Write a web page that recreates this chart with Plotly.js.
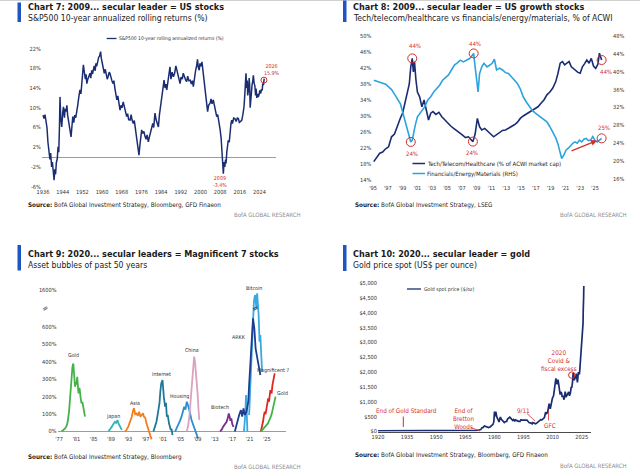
<!DOCTYPE html>
<html><head><meta charset="utf-8">
<script src="https://cdn.plot.ly/plotly-3.0.1.min.js"></script>
<style>html,body{margin:0;padding:0;background:#fff;}#c{width:640px;height:476px;}</style>
</head><body><div id="c"></div>
<script>
// ---------- Chart 7 : S&P500 10-year rolling annualized returns ----------
const spYears = [1936.0,1936.4,1936.8,1937.2,1937.6,1938.0,1938.4,1938.8,1939.1,1939.5,
 1939.8,1940.1,1940.5,1940.8,1941.1,1941.4,1941.8,1942.1,1942.4,1942.7,
 1942.9,1943.2,1943.6,1944.0,1944.3,1944.7,1945.0,1945.3,1945.7,1946.0,
 1946.3,1946.8,1947.1,1947.4,1947.8,1948.1,1948.5,1948.9,1949.3,1949.7,
 1950.1,1950.5,1951.0,1951.4,1951.8,1952.1,1952.4,1952.8,1953.2,1953.5,
 1953.8,1954.2,1954.6,1955.1,1955.4,1955.8,1956.1,1956.4,1956.8,1957.2,
 1957.5,1957.8,1958.2,1958.6,1959.0,1959.4,1959.7,1960.0,1960.5,1960.9,
 1961.3,1961.7,1962.1,1962.5,1962.9,1963.2,1963.6,1964.0,1964.4,1964.8,
 1965.2,1965.6,1966.0,1966.4,1966.8,1967.3,1967.7,1968.1,1968.6,1969.0,
 1969.4,1970.0,1970.4,1970.8,1971.4,1971.8,1972.2,1972.7,1973.1,1973.5,
 1974.1,1974.5,1975.0,1975.4,1975.8,1976.1,1976.5,1977.0,1977.5,1977.9,
 1978.3,1978.8,1979.2,1979.6,1980.2,1980.6,1981.0,1981.5,1982.0,1982.5,
 1982.9,1983.3,1983.8,1984.3,1984.8,1985.2,1985.6,1986.0,1986.3,1986.8,
 1987.2,1987.6,1988.0,1988.5,1989.0,1989.5,1990.0,1990.4,1990.8,1991.2,
 1991.7,1992.1,1992.6,1993.0,1993.4,1994.0,1994.4,1994.8,1995.3,1995.8,
 1996.3,1996.7,1997.1,1997.5,1998.0,1998.5,1998.8,1999.1,1999.5,1999.8,
 2000.2,2000.6,2000.9,2001.2,2001.6,2001.9,2002.2,2002.5,2002.9,2003.3,
 2003.9,2004.3,2004.7,2005.2,2005.6,2006.1,2006.6,2007.0,2007.5,2008.0,
 2008.4,2008.7,2008.9,2009.1,2009.3,2009.6,2009.9,2010.2,2010.4,2010.7,
 2011.0,2011.3,2011.7,2012.0,2012.4,2012.7,2013.0,2013.5,2014.0,2014.5,
 2015.0,2015.4,2015.8,2016.3,2016.8,2017.2,2017.7,2018.0,2018.3,2018.5,
 2018.8,2019.0,2019.2,2019.5,2019.8,2020.0,2020.2,2020.4,2020.7,2021.0,
 2021.2,2021.5,2021.8,2022.1,2022.4,2022.6,2022.9,2023.2,2023.5,2023.8,
 2024.1,2024.5,2024.8,2025.1,2025.3,2025.6,2025.9];
const spReturns = [8.5,7.8,8.6,7.2,6.0,3.0,1.2,-0.5,0.8,-2.0,
 -1.0,-3.2,-4.7,-2.5,-3.5,-1.2,-0.3,2.1,1.0,6.5,
 12.2,8.0,6.1,9.0,10.2,8.0,9.8,9.2,10.5,8.5,
 7.5,6.0,4.8,4.1,6.5,8.2,7.0,8.5,8.0,8.9,
 10.5,12.0,13.6,12.8,15.5,17.0,18.7,17.2,15.8,16.8,
 14.9,15.8,16.5,17.0,16.0,17.6,16.8,17.6,18.5,17.5,
 19.0,18.4,19.5,20.2,20.5,21.4,20.0,19.2,18.3,17.0,
 17.8,16.6,15.8,16.4,17.2,17.0,16.0,15.5,14.9,15.5,
 14.0,12.5,11.6,12.4,10.8,9.5,10.5,10.0,11.2,10.2,
 9.0,8.2,8.8,7.6,7.5,8.6,7.5,6.8,7.4,5.8,
 4.1,3.0,0.4,2.5,5.0,5.5,4.8,5.2,4.1,3.6,
 4.5,3.1,4.0,4.8,5.5,6.8,6.0,8.9,7.5,6.8,
 6.1,8.5,10.2,11.6,13.5,15.6,14.0,14.8,13.6,15.5,
 16.5,18.3,15.8,17.2,16.3,17.0,18.5,17.6,16.5,15.5,
 14.9,16.2,15.8,17.0,16.2,15.6,15.3,16.4,15.5,15.6,
 14.8,15.5,14.3,16.0,17.5,18.7,19.8,18.2,17.6,19.0,
 18.4,19.3,18.0,16.5,14.3,12.8,11.5,10.2,9.2,10.5,
 10.9,11.8,10.8,11.6,10.5,9.5,8.2,8.6,7.2,5.5,
 3.8,1.5,0.1,-1.8,-3.4,-1.0,-2.0,-0.5,-1.3,1.0,
 2.5,3.4,3.0,5.2,6.8,7.5,6.8,7.9,7.8,7.2,
 7.9,7.8,7.0,7.2,7.5,8.5,10.2,12.5,14.5,17.0,
 14.0,15.5,12.5,13.6,16.0,14.5,10.0,11.6,13.5,14.8,
 15.2,16.6,15.0,14.5,12.5,13.9,12.0,12.8,12.2,12.6,
 13.5,12.9,13.8,13.5,14.9,14.6,15.9];
const spYTicks = [-6,-2,2,6,10,14,18,22];
const spXTicks = [1936,1944,1952,1960,1968,1976,1984,1992,2000,2008,2016,2024];

// ---------- Chart 8 : sector shares of ACWI ----------
const techYears = [1995.1,1995.5,1995.9,1996.3,1996.7,1997.1,1997.5,1997.9,1998.3,1998.7,
 1999.0,1999.3,1999.6,1999.9,2000.1,2000.3,2000.45,2000.6,2000.8,2001.0,
 2001.3,2001.6,2001.9,2002.2,2002.5,2002.8,2003.1,2003.5,2003.9,2004.3,
 2004.7,2005.1,2005.5,2005.9,2006.3,2006.7,2007.1,2007.5,2007.9,2008.2,
 2008.5,2008.8,2009.1,2009.4,2009.7,2010.1,2010.5,2010.9,2011.3,2011.7,
 2012.1,2012.5,2012.9,2013.3,2013.7,2014.1,2014.5,2014.9,2015.3,2015.7,
 2016.1,2016.5,2016.9,2017.3,2017.7,2018.1,2018.5,2018.9,2019.3,2019.7,
 2020.0,2020.3,2020.6,2020.9,2021.2,2021.5,2021.8,2022.1,2022.4,2022.7,
 2023.0,2023.3,2023.6,2023.9,2024.2,2024.5,2024.8,2025.1,2025.4,2025.6,2025.9];
const techShare = [18.6,19.8,20.7,21.0,21.8,22.3,24.8,25.5,27.8,29.5,
 30.7,33.2,35.5,38.0,42.3,44.4,41.0,43.6,39.0,36.0,
 34.8,32.3,34.0,31.5,29.0,30.7,31.1,30.4,30.9,29.8,
 29.0,28.2,27.5,26.9,26.4,25.7,25.2,24.6,24.8,24.2,
 23.6,25.5,29.4,27.3,26.5,26.9,26.1,25.5,24.8,25.3,
 25.8,26.4,26.5,26.9,27.3,27.8,28.4,29.4,30.0,30.5,
 30.9,31.3,31.9,32.3,33.2,34.0,35.3,36.0,37.0,38.6,
 40.7,43.2,43.6,42.8,43.2,43.6,42.3,41.8,41.5,40.9,
 40.7,42.3,43.1,44.0,43.2,44.4,42.5,41.9,43.0,45.7,44.0];
const finYears = [1995.1,1995.5,1995.9,1996.3,1996.7,1997.1,1997.5,1997.9,1998.3,1998.7,
 1999.0,1999.3,1999.6,1999.9,2000.1,2000.3,2000.5,2000.7,2001.0,2001.3,
 2001.6,2002.0,2002.4,2002.8,2003.2,2003.6,2004.0,2004.4,2004.8,2005.2,
 2005.6,2006.0,2006.4,2006.8,2007.2,2007.6,2008.0,2008.3,2008.6,2008.8,
 2009.0,2009.2,2009.4,2009.7,2010.0,2010.4,2010.8,2011.1,2011.4,2011.7,
 2012.1,2012.5,2012.9,2013.3,2013.7,2014.1,2014.5,2014.9,2015.3,2015.7,
 2016.1,2016.5,2016.9,2017.3,2017.7,2018.1,2018.5,2018.9,2019.3,2019.7,
 2020.0,2020.3,2020.5,2020.8,2021.1,2021.4,2021.7,2022.0,2022.3,2022.6,
 2022.9,2023.2,2023.5,2023.8,2024.1,2024.4,2024.7,2025.0,2025.3,2025.6,2025.9];
const finShare = [38.1,37.9,37.6,37.4,37.2,36.6,36.0,35.0,34.0,32.8,
 31.0,29.2,27.0,25.5,24.3,24.7,26.5,28.0,29.9,30.6,
 31.1,32.2,33.7,34.4,35.5,36.3,37.0,38.1,38.8,39.3,
 40.4,41.5,42.0,42.6,42.2,42.6,42.9,43.4,44.1,41.1,
 38.1,35.5,39.6,41.1,41.9,41.1,41.5,41.9,42.8,40.4,
 40.8,40.4,39.8,39.6,38.9,38.1,37.4,36.2,34.4,33.3,
 32.2,31.4,30.8,30.3,29.9,29.2,28.8,27.7,26.6,25.2,
 23.8,22.0,20.6,21.4,22.5,22.9,23.5,24.0,24.3,24.0,
 24.7,24.3,24.9,25.1,24.6,24.7,25.5,24.6,24.3,24.7,25.1];
const acwiXTicks = [1995,1997,1999,2001,2003,2005,2007,2009,2011,2013,2015,2017,2019,2021,2023,2025];
const acwiXLabels = ["'95","'97","'99","'01","'03","'05","'07","'09","'11","'13","'15","'17","'19","'21","'23","'25"];
const acwiLeftTicks = [14,18,22,26,30,34,38,42,46,50];
const acwiRightTicks = [16,20,24,28,32,36,40,44,48];

// ---------- Chart 9 : asset bubbles ----------
const gold1Years = [1977.6,1978.0,1978.4,1978.8,1979.0,1979.3,1979.5,1979.7,1979.9,1980.1,1980.3,1980.5,1980.7,1980.9,1981.05,1981.2,1981.4,1981.5,1981.7,1981.8,1982.0,1982.2,1982.4,1982.6,1982.8,1983.0];
const gold1Gain = [0,8,18,35,56,110,180,250,314,370,390,300,257,285,270,314,240,219,250,238,190,162,170,142,110,85];
const japanYears = [1988.4,1988.8,1989.2,1989.5,1989.9,1990.2,1990.5,1990.7,1990.9,1991.2,1991.5];
const japanGain = [0,12,28,40,56,50,66,48,37,20,9];
const asiaYears = [1992.2,1992.6,1993.0,1993.4,1993.8,1994.1,1994.3,1994.6,1994.9,1995.2,1995.5,1995.8,1996.1,1996.4,1996.6,1996.9,1997.2,1997.5,1997.8,1998.1,1998.4];
const asiaGain = [0,10,28,55,85,120,133,100,104,90,113,85,95,105,85,80,47,20,-10,-25,-45];
const internetYears = [1998.8,1999.1,1999.5,1999.8,2000.2,2000.4,2000.6,2000.9,2001.0,2001.2,2001.5,2001.7,2001.9,2002.1,2002.4,2002.6,2002.8,2003.0,2003.2];
const internetGain = [0,20,56,100,162,230,276,295,250,200,142,165,85,95,47,30,9,15,-20];
const housingYears = [2003.8,2004.1,2004.5,2004.9,2005.3,2005.6,2005.9,2006.2,2006.5,2006.8,2007.0,2007.3,2007.6,2008.0,2008.4,2008.8,2009.1];
const housingGain = [0,15,37,60,85,110,142,125,171,150,133,100,66,40,9,-15,-39];
const chinaYears = [2006.5,2006.8,2007.1,2007.4,2007.6,2007.9,2008.2,2008.4,2008.6,2008.8,2009.0,2009.2,2009.4];
const chinaGain = [0,30,85,180,276,350,429,400,352,300,219,130,66];
const biotechYears = [2014.2,2014.6,2014.9,2015.3,2015.7,2016.0,2016.2,2016.4,2016.6,2016.8,2017.0,2017.3];
const biotechGain = [0,12,28,40,56,80,104,85,62,75,43,26];
const arkkYears = [2017.6,2017.9,2018.1,2018.4,2018.6,2019.0,2019.3,2019.6,2019.9,2020.3,2020.7,2020.9,2021.2,2021.5,2021.8,2022.1,2022.4,2022.8,2023.2,2023.5];
const arkkGain = [0,30,56,80,95,123,85,133,95,113,171,266,419,515,649,591,477,419,362,324];
const btcEarlyYears = [2019.7,2019.85,2020.0,2020.2,2020.3,2020.4,2020.5];
const btcEarlyGain = [0,40,95,209,150,95,0];
const btcYears = [2020.9,2021.05,2021.2,2021.35,2021.5,2021.7,2021.85,2022.0,2022.15,2022.3,2022.45,2022.6,2022.75,2022.9,2023.1,2023.3,2023.5,2023.7,2023.9];
const btcGain = [95,180,266,380,457,610,800,1057,1250,1365,1000,749,1446,1100,668,515,553,438,343];
const mag7Years = [2023.6,2023.9,2024.1,2024.3,2024.5,2024.7,2024.9,2025.1,2025.3,2025.5,2025.65,2025.8,2026.0,2026.1,2026.25,2026.4,2026.6,2026.8];
const mag7Gain = [0,25,56,90,113,100,142,160,190,171,210,238,225,219,260,285,300,333];
const gold2Years = [2023.6,2023.9,2024.3,2024.6,2024.9,2025.2,2025.4,2025.7,2025.9,2026.1,2026.3,2026.5,2026.6,2026.8,2027.0];
const gold2Gain = [0,8,18,28,37,45,56,70,85,100,123,140,162,180,200];
const bubbleXTicks = [1977,1981,1985,1989,1993,1997,2001,2005,2009,2013,2017,2021,2025];
const bubbleXLabels = ["'77","'81","'85","'89","'93","'97","'01","'05","'09","'13","'17","'21","'25"];
const bubbleYTicks = [0,100,200,300,400,500,600,1600];

// ---------- Chart 10 : gold spot price ----------
const goldYears = [1920,1933.9,1934.1,1967.9,1968.3,1969.0,1970.0,1971.0,1972.0,1972.6,
 1973.0,1973.5,1974.0,1974.9,1975.5,1976.7,1977.0,1977.9,1978.5,1978.9,
 1979.3,1979.7,1979.9,1980.05,1980.2,1980.4,1980.7,1980.9,1981.2,1981.5,
 1981.9,1982.4,1982.8,1983.1,1983.5,1983.9,1984.5,1985.1,1985.6,1986.3,
 1986.8,1987.3,1987.9,1988.4,1988.9,1989.5,1989.9,1990.5,1990.8,1991.5,
 1992.5,1993.2,1993.6,1994.5,1995.5,1996.1,1996.8,1997.5,1998.0,1998.7,
 1999.5,1999.8,2000.3,2001.2,2001.7,2002.5,2003.2,2003.9,2004.5,2005.0,
 2005.8,2006.4,2006.8,2007.5,2007.9,2008.2,2008.8,2009.2,2009.9,2010.5,
 2010.9,2011.4,2011.7,2012.0,2012.4,2012.8,2013.3,2013.6,2013.9,2014.2,
 2014.6,2014.9,2015.5,2015.9,2016.5,2016.9,2017.5,2017.9,2018.3,2018.7,
 2019.2,2019.6,2019.9,2020.3,2020.6,2020.9,2021.2,2021.5,2021.9,2022.2,
 2022.8,2023.3,2023.8,2024.0,2024.3,2024.6,2024.8,2025.0,2025.2,2025.3,
 2025.5,2025.7,2025.8,2025.9,2026.0,2026.1];
const goldPrice = [20.67,20.67,35,35,39,42,36,41,50,65,
 65,120,130,185,165,115,132,160,185,210,
 240,330,460,675,550,515,670,620,500,460,
 410,320,430,490,420,385,350,300,330,340,
 420,440,485,450,415,370,400,360,390,360,
 340,340,390,385,385,405,380,330,295,290,
 260,300,280,260,275,315,350,400,395,425,
 470,650,590,665,800,940,760,930,1120,1200,
 1390,1500,1790,1650,1590,1750,1470,1280,1240,1330,
 1300,1180,1180,1070,1340,1160,1250,1300,1330,1200,
 1300,1500,1480,1680,1970,1870,1720,1810,1790,1950,
 1650,2000,1920,2050,2330,2450,2700,2650,2950,3250,
 3350,3650,4100,4200,4500,4900];
const goldXTicks = [1920,1935,1950,1965,1980,1995,2010,2025];
const goldYTicks = [0,500,1000,1500,2000,2500,3000,3500,4000,4500,5000];
const goldYLabels = ['$0','$500','$1,000','$1,500','$2,000','$2,500','$3,000','$3,500','$4,000','$4,500','$5,000'];

// ---------- styling helpers ----------
const F = "'Liberation Sans Narrow','Arial Narrow','DejaVu Sans Condensed',sans-serif";
const NAVY = '#1b2d72', LIGHT = '#2ba4de', RED = '#d22e2e', TICK = '#333333', BAR = '#1d55c4';
const X = px => px / 640;
const Y = py => 1 - py / 476;
const pct = v => v + '%';
function txt(px, py, text, size, color, extra) {
  return Object.assign({xref:'paper', yref:'paper', x:X(px), y:Y(py), text:text, showarrow:false,
    font:{family:F, size:size, color:color}, xanchor:'left', yanchor:'middle', borderpad:0}, extra || {});
}
function pline(x0, y0, x1, y1, color, w) {
  return {type:'line', xref:'paper', yref:'paper', x0:X(x0), y0:Y(y0), x1:X(x1), y1:Y(y1), line:{color:color, width:w}};
}
function prect(x0, y0, x1, y1, color) {
  return {type:'rect', xref:'paper', yref:'paper', x0:X(x0), y0:Y(y0), x1:X(x1), y1:Y(y1), fillcolor:color, line:{width:0}};
}
function ring(xr, yr, xv, yv, r) {
  return {type:'circle', xref:xr, yref:yr, xsizemode:'pixel', ysizemode:'pixel', xanchor:xv, yanchor:yv,
    x0:-r, x1:r, y0:-r, y1:r, line:{color:RED, width:1}};
}
// axis scale break for chart 9 (values above 700% compressed)
const BRK = 700, BRK_SCALE = 0.1233;
const brk = v => v <= BRK ? v : BRK + (v - BRK) * BRK_SCALE;

const tf = {family:F, size:5.6, color:TICK};
function ln(x, y, xa, ya, color, w) {
  return {type:'scatter', mode:'lines', x:x, y:y, xaxis:xa, yaxis:ya, line:{color:color, width:w}, hoverinfo:'skip'};
}

const data = [
  ln(spYears, spReturns, 'x', 'y', NAVY, 1.5),
  ln(techYears, techShare, 'x2', 'y2', NAVY, 1.6),
  ln(finYears, finShare, 'x2', 'y3', LIGHT, 1.6),
  ln(gold1Years, gold1Gain, 'x3', 'y4', '#43b348', 1.8),
  ln(japanYears, japanGain, 'x3', 'y4', '#35b4b4', 1.8),
  ln(asiaYears, asiaGain, 'x3', 'y4', '#f0801f', 1.8),
  ln(internetYears, internetGain, 'x3', 'y4', '#1f7898', 1.8),
  ln(housingYears, housingGain, 'x3', 'y4', '#2d8ed0', 1.8),
  ln(chinaYears, chinaGain, 'x3', 'y4', '#dba2bf', 1.8),
  ln(biotechYears, biotechGain, 'x3', 'y4', '#7b2b8c', 1.8),
  ln(btcEarlyYears, btcEarlyGain, 'x3', 'y4', '#38a9e2', 1.8),
  ln(btcYears, btcGain.map(brk), 'x3', 'y4', '#38a9e2', 1.8),
  ln(arkkYears, arkkGain.map(brk), 'x3', 'y4', '#1c3d92', 1.8),
  ln(mag7Years, mag7Gain, 'x3', 'y4', '#e2261f', 1.8),
  ln(gold2Years, gold2Gain, 'x3', 'y4', '#43b348', 1.8),
  ln(goldYears, goldPrice, 'x4', 'y5', NAVY, 1.7)
];

const base = {showgrid:false, ticks:'', tickfont:tf, tickangle:0, fixedrange:true};
const layout = {
  width:640, height:476, margin:{l:0, r:0, t:0, b:0}, showlegend:false,
  paper_bgcolor:'#fff', plot_bgcolor:'rgba(0,0,0,0)',
  xaxis: Object.assign({}, base, {domain:[X(41.8), X(276)], range:[1935.5, 2030.7], tickvals:spXTicks,
    ticktext:spXTicks.map(String), anchor:'free', position:Y(187), zeroline:false, showline:false}),
  yaxis: Object.assign({}, base, {domain:[Y(187.6), Y(47.6)], range:[-6.2, 22.2], tickvals:spYTicks, ticktext:spYTicks.map(pct),
    anchor:'x', zeroline:true, zerolinecolor:'#9c9c9c', zerolinewidth:1}),
  xaxis2: Object.assign({}, base, {domain:[X(372.3), X(612)], range:[1994.9, 2027.3], tickvals:acwiXTicks, ticktext:acwiXLabels,
    anchor:'free', position:Y(183.5), zeroline:false}),
  yaxis2: Object.assign({}, base, {domain:[Y(180.8), Y(35.2)], range:[13.8, 50.2], tickvals:acwiLeftTicks, ticktext:acwiLeftTicks.map(pct),
    anchor:'x2', zeroline:false}),
  yaxis3: Object.assign({}, base, {overlaying:'y2', side:'right', range:[15.6, 48.18], tickvals:acwiRightTicks, ticktext:acwiRightTicks.map(pct),
    anchor:'x2', zeroline:false}),
  xaxis3: Object.assign({}, base, {domain:[X(57.5), X(285.5)], range:[1976.65, 2029.3], tickvals:bubbleXTicks, ticktext:bubbleXLabels,
    anchor:'free', position:Y(434), zeroline:false}),
  yaxis4: Object.assign({}, base, {domain:[Y(442), Y(286)], range:[-60, 834], tickvals:bubbleYTicks.map(brk),
    ticktext:bubbleYTicks.map(pct), anchor:'x3', zeroline:true, zerolinecolor:'#9c9c9c', zerolinewidth:1}),
  xaxis4: Object.assign({}, base, {domain:[X(378), X(591)], range:[1920, 2029.8], tickvals:goldXTicks, ticktext:goldXTicks.map(String),
    anchor:'y5', zeroline:false, showline:true, linecolor:'#4a4a4a', linewidth:1}),
  yaxis5: Object.assign({}, base, {domain:[Y(431.5), Y(283)], range:[0, 5000], tickvals:goldYTicks, ticktext:goldYLabels,
    anchor:'x4', zeroline:false}),
  shapes: [
    pline(0, 0.5, 640, 0.5, '#d0d0d0', 1),
    prect(17.5, 2.5, 21, 22, BAR), prect(343, 0.5, 346.5, 22, BAR),
    prect(17.5, 245, 21, 270.5, BAR), prect(343, 245, 346.5, 271, BAR),
    // legend samples
    pline(106.7, 38.5, 116.5, 38.5, NAVY, 1.3),
    pline(412.5, 163.5, 425, 163.5, NAVY, 1.5),
    pline(412.5, 173.5, 425, 173.5, LIGHT, 1.5),
    pline(407, 289, 421, 289, NAVY, 1.3),
    // highlight rings
    ring('x', 'y', 2025.8, 15.6, 3),
    ring('x2', 'y2', 2000.3, 44.4, 4.5),
    ring('x2', 'y3', 2008.6, 44.1, 4.5),
    ring('x2', 'y3', 2000.1, 24.3, 4.5),
    ring('x2', 'y2', 2008.5, 23.6, 4.5),
    ring('x2', 'y2', 2025.9, 44.0, 4.5),
    ring('x2', 'y3', 2025.9, 25.1, 4.5),
    ring('x4', 'y5', 2019.9, 1900, 3.2),
    // gold event pointers
    pline(403.3, 416.5, 403.3, 427, RED, 1),
    pline(471, 427.5, 480, 431, RED, 0.8),
    pline(527, 413.5, 535, 421, RED, 0.8),
    pline(548.5, 410.5, 548.5, 420.5, RED, 0.8)
  ],
  annotations: [
    // titles
    txt(26.5, 7.5, '<b>Chart 7: 2009... secular leader = US stocks</b>', 9, '#1a1a1a'),
    txt(26.5, 18, 'S&amp;P500 10-year annualized rolling returns (%)', 8.6, '#1a1a1a'),
    txt(351.5, 7, '<b>Chart 8: 2009... secular leader = US growth stocks</b>', 9, '#1a1a1a'),
    txt(351.5, 18, 'Tech/telecom/healthcare vs financials/energy/materials, % of ACWI', 8.6, '#1a1a1a'),
    txt(26.5, 253.5, '<b>Chart 9: 2020... secular leaders = Magnificent 7 stocks</b>', 9, '#1a1a1a'),
    txt(26.5, 265, 'Asset bubbles of past 50 years', 8.6, '#1a1a1a'),
    txt(351.5, 253.5, '<b>Chart 10: 2020... secular leader = gold</b>', 9, '#1a1a1a'),
    txt(351.5, 265, 'Gold price spot (US$ per ounce)', 8.6, '#1a1a1a'),
    // sources
    txt(27, 205, '<b>Source:</b> BofA Global Investment Strategy, Bloomberg, GFD Finaeon', 6.3, '#1a1a1a'),
    txt(354, 205, '<b>Source:</b> BofA Global Investment Strategy, LSEG', 6.3, '#1a1a1a'),
    txt(27, 457, '<b>Source:</b> BofA Global Investment Strategy, Bloomberg', 6.3, '#1a1a1a'),
    txt(354, 455, '<b>Source:</b> BofA Global Investment Strategy, Bloomberg, GFD Finaeon', 6.3, '#1a1a1a'),
    txt(302, 215, 'BofA GLOBAL RESEARCH', 6, '#8c8c8c', {xanchor:'right'}),
    txt(628, 215, 'BofA GLOBAL RESEARCH', 6, '#8c8c8c', {xanchor:'right'}),
    txt(302, 466.5, 'BofA GLOBAL RESEARCH', 6, '#8c8c8c', {xanchor:'right'}),
    txt(628, 465, 'BofA GLOBAL RESEARCH', 6, '#8c8c8c', {xanchor:'right'}),
    // legends
    txt(118, 38.5, 'S&amp;P500 10-year rolling annualized returns (%)', 5, '#333'),
    txt(426, 163.5, 'Tech/Telecom/Healthcare (% of ACWI market cap)', 6, '#222'),
    txt(426, 173.5, 'Financials/Energy/Materials (RHS)', 6, '#222'),
    txt(423, 289, 'Gold spot price ($/oz)', 5.2, '#333'),
    // chart 7 callouts
    txt(271.5, 69.5, '2026<br>15.9%', 5.3, RED, {xanchor:'center'}),
    txt(219.5, 181, '2009<br>-3.4%', 5.3, RED, {xanchor:'center'}),
    // chart 8 callouts
    txt(415, 46, '44%', 6, RED, {xanchor:'center'}),
    txt(475, 43.5, '44%', 6, RED, {xanchor:'center'}),
    txt(411.5, 154, '24%', 6, RED, {xanchor:'center'}),
    txt(472, 153, '24%', 6, RED, {xanchor:'center'}),
    txt(605.5, 71.5, '44%', 6, RED, {xanchor:'center'}),
    txt(603.5, 128, '25%', 6, RED, {xanchor:'center'}),
    {xref:'paper', yref:'paper', x:X(597), y:Y(140.5), ax:-27, ay:11, text:'', showarrow:true,
      arrowhead:2, arrowsize:1, arrowwidth:1.2, arrowcolor:RED},
    // chart 9 labels
    txt(73.5, 355, 'Gold', 5.3, '#333', {xanchor:'center'}),
    txt(113, 416, 'Japan', 5.3, '#333', {xanchor:'center'}),
    txt(135, 402.5, 'Asia', 5.3, '#333', {xanchor:'center'}),
    txt(161, 374, 'Internet', 5.3, '#333', {xanchor:'center'}),
    txt(179.5, 396.5, 'Housing', 5.3, '#333', {xanchor:'center'}),
    txt(192, 350, 'China', 5.3, '#333', {xanchor:'center'}),
    txt(219.5, 406.5, 'Biotech', 5.3, '#333', {xanchor:'center'}),
    txt(238.5, 337, 'ARKK', 5.3, '#333', {xanchor:'center'}),
    txt(253.5, 287.5, 'Bitcoin', 5.3, '#333', {xanchor:'center'}),
    txt(272.5, 370, 'Magnificent 7', 5.3, '#333', {xanchor:'center'}),
    txt(282, 393.3, 'Gold', 5.3, '#333', {xanchor:'center'}),
    txt(45, 308, '≈', 8, '#333', {xanchor:'center', textangle:-35}),
    txt(255, 308, '≈', 8, '#111', {xanchor:'center', textangle:-35}),
    // chart 10 callouts
    txt(406.5, 410, 'End of Gold Standard', 6.3, RED, {xanchor:'center'}),
    txt(463.5, 418.5, 'End of<br>Bretton<br>Woods', 6.3, RED, {xanchor:'center'}),
    txt(523.5, 410, '9/11', 6.3, RED, {xanchor:'center'}),
    txt(550, 425.5, 'GFC', 6.3, RED, {xanchor:'center'}),
    txt(558.5, 360.5, '2020<br>Covid &amp;<br>fiscal excess', 6.3, RED, {xanchor:'center'})
  ]
};
Plotly.newPlot('c', data, layout, {staticPlot:true, displayModeBar:false});
</script></body></html>
